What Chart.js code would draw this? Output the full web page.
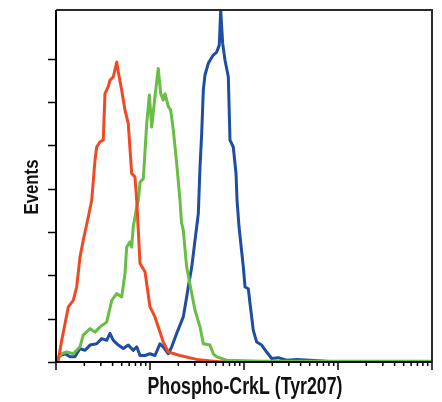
<!DOCTYPE html>
<html>
<head>
<meta charset="utf-8">
<script src="https://cdn.jsdelivr.net/npm/chart.js@4/dist/chart.umd.min.js"></script>
<style>
  html, body { margin: 0; padding: 0; background: #fff; }
  #wrap { width: 442px; height: 402px; position: relative; }
</style>
</head>
<body>
<div id="wrap"><canvas id="histo"></canvas></div>
<script>
// x = log10 of fluorescence (decades), y = events
const redX = [0, 0.024, 0.061, 0.131, 0.184, 0.220, 0.255, 0.290, 0.344, 0.380, 0.415, 0.433, 0.468, 0.503, 0.521, 0.556, 0.574, 0.610, 0.646, 0.663, 0.699, 0.734, 0.769, 0.805, 0.840, 0.859, 0.894, 0.947, 1.000, 1.053, 1.106, 1.141, 1.195, 1.319, 1.497, 1.673, 1.780];
const redY = [0, 0.04, 0.50, 1.27, 1.42, 1.73, 2.42, 2.81, 3.35, 3.73, 4.66, 4.96, 5.08, 5.12, 6.19, 6.35, 6.50, 6.58, 6.92, 6.69, 6.27, 5.81, 5.50, 4.35, 4.27, 3.73, 2.27, 2.08, 1.27, 1.04, 0.69, 0.46, 0.23, 0.15, 0.06, 0.02, 0];

const greenX = [0.007, 0.061, 0.114, 0.184, 0.255, 0.290, 0.362, 0.415, 0.468, 0.539, 0.593, 0.646, 0.699, 0.734, 0.752, 0.787, 0.805, 0.822, 0.859, 0.876, 0.894, 0.929, 0.965, 0.993, 1.018, 1.053, 1.088, 1.114, 1.141, 1.160, 1.195, 1.220, 1.248, 1.284, 1.319, 1.335, 1.354, 1.390, 1.444, 1.479, 1.532, 1.567, 1.638, 1.673, 1.710, 1.816, 2.200, 3.000, 4.000];
const greenY = [0.04, 0.19, 0.23, 0.19, 0.35, 0.62, 0.77, 0.69, 0.81, 0.92, 1.42, 1.58, 1.50, 2.04, 2.65, 2.77, 2.65, 3.12, 3.58, 3.73, 4.15, 4.23, 5.50, 6.16, 5.42, 6.12, 6.77, 6.19, 6.04, 6.19, 5.89, 5.81, 5.35, 4.58, 3.73, 3.22, 3.04, 2.19, 1.58, 1.19, 0.81, 0.42, 0.39, 0.19, 0.12, 0.04, 0.02, 0.02, 0.02];

const blueX = [0.007, 0.043, 0.096, 0.149, 0.202, 0.255, 0.309, 0.362, 0.433, 0.486, 0.539, 0.574, 0.610, 0.663, 0.716, 0.769, 0.822, 0.859, 0.894, 0.947, 1.000, 1.053, 1.106, 1.141, 1.195, 1.231, 1.284, 1.354, 1.390, 1.407, 1.444, 1.479, 1.514, 1.532, 1.550, 1.567, 1.585, 1.620, 1.673, 1.710, 1.737, 1.752, 1.773, 1.798, 1.833, 1.851, 1.886, 1.915, 1.926, 1.947, 1.993, 2.011, 2.046, 2.064, 2.099, 2.135, 2.188, 2.241, 2.295, 2.365, 2.454, 2.561, 2.702, 2.915];
const blueY = [0.04, 0.15, 0.19, 0.12, 0.12, 0.31, 0.27, 0.39, 0.42, 0.54, 0.50, 0.66, 0.50, 0.39, 0.31, 0.39, 0.27, 0.35, 0.15, 0.15, 0.19, 0.15, 0.42, 0.35, 0.19, 0.35, 0.66, 1.04, 1.50, 1.73, 2.19, 2.81, 3.42, 4.50, 5.27, 6.27, 6.62, 6.89, 7.08, 7.15, 7.31, 8.12, 7.35, 6.96, 6.58, 5.12, 4.96, 4.35, 3.73, 3.12, 2.19, 1.73, 1.69, 1.35, 0.73, 0.46, 0.39, 0.23, 0.08, 0.10, 0.04, 0.06, 0.04, 0.01];

const xDecades = [0, 1, 2, 3, 4];
const xMinor = [2, 3, 4, 5, 6, 7, 8, 9];
const yTicks = [0, 1, 2, 3, 4, 5, 6, 7];

const xTitle = "Phospho-CrkL (Tyr207)";
const yTitle = "Events";

const toPoints = (xs, ys) => xs.map((x, i) => ({ x: x, y: ys[i] }));

// draw text squeezed to a given width (condensed look)
const narrowText = function (ctx, text, x, y, width) {
  const w = ctx.measureText(text).width;
  ctx.save();
  ctx.translate(x, y);
  ctx.scale(width / w, 1);
  ctx.fillText(text, 0, 0);
  ctx.restore();
};

const axisPlugin = {
  id: "flowAxes",
  afterDraw(chart) {
    const ctx = chart.ctx;
    const a = chart.chartArea;
    const sx = chart.scales.x;
    const sy = chart.scales.y;
    ctx.save();
    // frame
    ctx.strokeStyle = "#2a2a2a";
    ctx.lineWidth = 2;
    ctx.beginPath();
    ctx.moveTo(a.left, a.top);
    ctx.lineTo(a.right, a.top);
    ctx.lineTo(a.right, a.bottom);
    ctx.stroke();
    ctx.strokeStyle = "#000";
    ctx.beginPath();
    ctx.moveTo(a.left, a.top);
    ctx.lineTo(a.left, a.bottom);
    ctx.lineTo(a.right, a.bottom);
    ctx.stroke();

    // y ticks
    ctx.lineWidth = 1.5;
    yTicks.forEach((v) => {
      const py = Math.round(sy.getPixelForValue(v)) + 0.5;
      ctx.beginPath();
      ctx.moveTo(a.left - 8, py);
      ctx.lineTo(a.left, py);
      ctx.stroke();
    });

    // x ticks (log decades)
    xDecades.forEach((d) => {
      const px = sx.getPixelForValue(d);
      ctx.beginPath();
      ctx.moveTo(px, a.bottom);
      ctx.lineTo(px, a.bottom + 8);
      ctx.stroke();
      if (d < 4) {
        xMinor.forEach((m) => {
          const pm = sx.getPixelForValue(d + Math.log10(m));
          ctx.beginPath();
          ctx.moveTo(pm, a.bottom);
          ctx.lineTo(pm, a.bottom + 4);
          ctx.stroke();
        });
      }
    });

    // titles
    ctx.fillStyle = "#111";
    ctx.font = "bold 23px 'Liberation Sans', Arial, sans-serif";
    ctx.textAlign = "center";
    ctx.textBaseline = "alphabetic";
    narrowText(ctx, xTitle, 245, 394, 195);
    ctx.translate(38, 187);
    ctx.rotate(-Math.PI / 2);
    ctx.font = "bold 21px 'Liberation Sans', Arial, sans-serif";
    narrowText(ctx, yTitle, 0, 0, 55);
    ctx.restore();
  }
};

new Chart(document.getElementById("histo"), {
  type: "line",
  data: {
    datasets: [
      {
        data: toPoints(redX, redY),
        borderColor: "#f04a24",
        borderWidth: 3,
      },
      {
        data: toPoints(greenX, greenY),
        borderColor: "#68bd45",
        borderWidth: 3,
      },
      {
        data: toPoints(blueX, blueY),
        borderColor: "#1d4ea3",
        borderWidth: 3,
      },
    ],
  },
  options: {
    responsive: true,
    maintainAspectRatio: false,
    animation: false,
    elements: {
      point: { radius: 0 },
      line: { tension: 0, borderJoinStyle: "round", borderCapStyle: "round" },
    },
    layout: { padding: { left: 56, top: 10, right: 10, bottom: 40 } },
    scales: {
      x: { type: "linear", min: 0, max: 4, display: false },
      y: { min: 0, max: 8.12, display: false },
    },
    plugins: {
      legend: { display: false },
      tooltip: { enabled: false },
    },
  },
  plugins: [axisPlugin],
});
</script>
</body>
</html>
